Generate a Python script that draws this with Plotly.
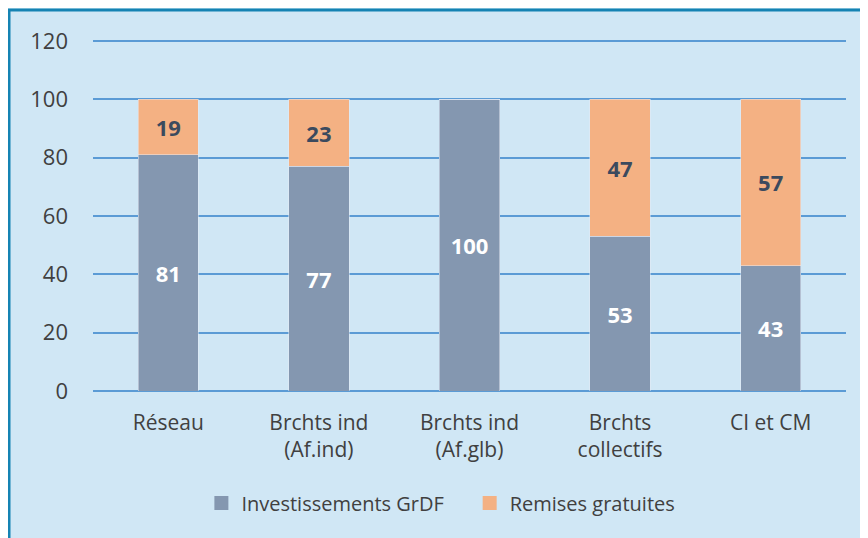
import plotly.graph_objects as go

categories = ["Réseau", "Brchts ind<br>(Af.ind)", "Brchts ind<br>(Af.glb)", "Brchts<br>collectifs", "CI et CM"]
invest = [81, 77, 100, 53, 43]
remises = [19, 23, 0, 47, 57]
yticks = [0, 20, 40, 60, 80, 100, 120]
series_names = ["Investissements GrDF", "Remises gratuites"]

blue = "#8497B0"
orange = "#F4B183"
font = "Open Sans"

fig = go.Figure()
fig.add_bar(
    x=categories, y=invest, name=series_names[0], marker_color=blue, showlegend=False,
    text=[str(v) if v else "" for v in invest], textposition="inside",
    insidetextanchor="middle",
    textfont=dict(family=font, size=22, color="white", weight="bold"),
)
fig.add_bar(
    x=categories, y=remises, name=series_names[1], marker_color=orange, showlegend=False,
    text=[str(v) if v else "" for v in remises], textposition="inside",
    insidetextanchor="middle",
    textfont=dict(family=font, size=22, color="#3B4A5E", weight="bold"),
)
legend_labels = [series_names[0] + "\u00a0" * 4, series_names[1]]
for nm, col in zip(legend_labels, [blue, orange]):
    fig.add_scatter(x=[None], y=[None], mode="markers", name=nm,
                    marker=dict(symbol="square", size=14, color=col))

W, H = 868, 538
unit = 350 / 120
YMAX = 121
PH = YMAX * unit
L, T, PW = 85, 33 - (YMAX - 120) * unit, 753

fig.update_layout(
    barmode="stack",
    bargap=0.6,
    width=W, height=H,
    margin=dict(l=L, r=W - L - PW, t=T, b=H - T - PH, autoexpand=False),
    paper_bgcolor="#D7EEF9",
    plot_bgcolor="rgba(0,0,0,0)",
    font=dict(family=font, size=20, color="#404040"),
    showlegend=True,
    legend=dict(orientation="h", traceorder="normal", x=0.462, xanchor="center",
                y=-(503 - 391) / PH, yanchor="middle",
                font=dict(family=font, size=20, color="#404040"), itemwidth=30,
                itemsizing="trace", bgcolor="rgba(0,0,0,0)"),
    uniformtext=dict(mode="show", minsize=10),
    shapes=[dict(type="rect", xref="paper", yref="paper",
                 x0=-84 / PW, x1=1.2, y0=-0.6, y1=(391 - 10) / PH,
                 line=dict(color="#1583B3", width=3), fillcolor="#D0E7F5", layer="below")],
)
fig.update_yaxes(range=[0, YMAX], tickvals=yticks, showgrid=True, gridcolor="#5B9BD5",
                 gridwidth=1.5, zeroline=True, zerolinecolor="#5B9BD5", zerolinewidth=1.5,
                 showline=False, ticks="", ticklabelstandoff=24, tickfont=dict(size=22))
fig.update_xaxes(showgrid=False, ticks="", showline=False, ticklabelstandoff=17, tickfont=dict(size=21))

fig.write_html("out.html")
